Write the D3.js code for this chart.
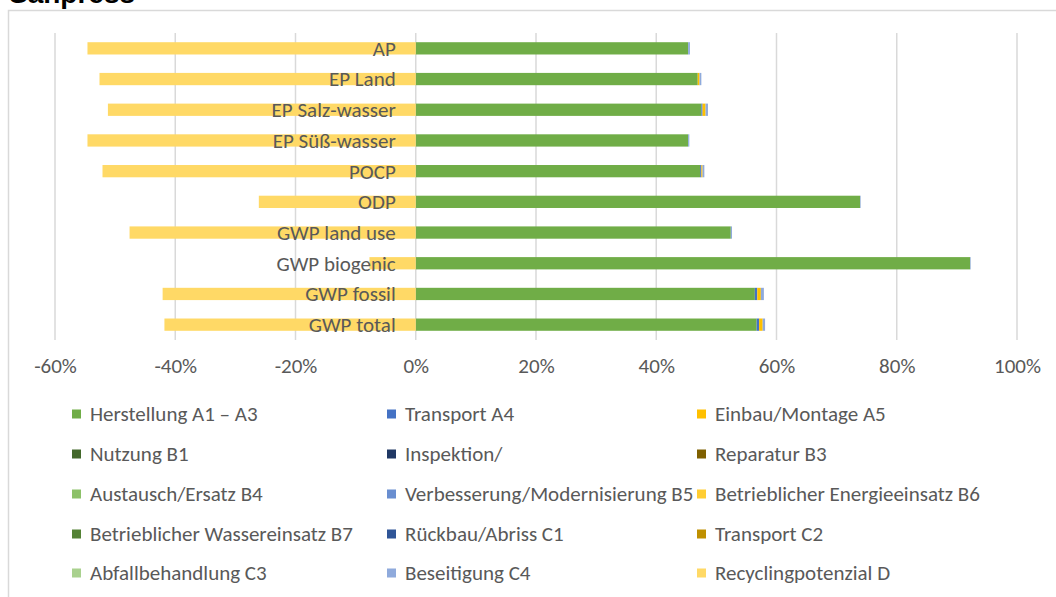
<!DOCTYPE html>
<html>
<head>
<meta charset="utf-8">
<script src="https://cdn.jsdelivr.net/npm/d3@7"></script>
<style>
  body { margin: 0; background: #fff; }
  svg { display: block; font-family: Carlito, Calibri, 'Open Sans', sans-serif; }
</style>
</head>
<body>
<svg id="chart" width="1056" height="597"></svg>
<script>
const categories = ['AP', 'EP Land', 'EP Salz-wasser', 'EP Süß-wasser', 'POCP', 'ODP',
  'GWP land use', 'GWP biogenic', 'GWP fossil', 'GWP total'];

const seriesNames = ['Herstellung A1 – A3', 'Transport A4', 'Einbau/Montage A5',
  'Nutzung B1', 'Inspektion/', 'Reparatur B3',
  'Austausch/Ersatz B4', 'Verbesserung/Modernisierung B5', 'Betrieblicher Energieeinsatz B6',
  'Betrieblicher Wassereinsatz B7', 'Rückbau/Abriss C1', 'Transport C2',
  'Abfallbehandlung C3', 'Beseitigung C4', 'Recyclingpotenzial D'];

const seriesColors = ['#70AD47', '#4472C4', '#FFC000',
  '#43682B', '#203864', '#7F6000',
  '#8CC168', '#698ED0', '#FFCD33',
  '#548235', '#2F5597', '#BF9000',
  '#A9D18E', '#8FAADC', '#FFD966'];

// values in %, one entry per category (top to bottom)
const herstellungA1A3 = [45.3, 46.9, 47.5, 45.3, 47.3, 73.9, 52.4, 92.2, 56.4, 56.7];
const transportA4     = [0, 0, 0.2, 0, 0.2, 0, 0, 0, 0.4, 0.4];
const einbauA5        = [0, 0.3, 0.5, 0, 0.2, 0, 0, 0, 0.6, 0.6];
const nutzungB1       = [0, 0, 0, 0, 0, 0, 0, 0, 0, 0];
const inspektionB2    = [0, 0, 0, 0, 0, 0, 0, 0, 0, 0];
const reparaturB3     = [0, 0, 0, 0, 0, 0, 0, 0, 0, 0];
const austauschB4     = [0, 0, 0, 0, 0, 0, 0, 0, 0, 0];
const verbesserungB5  = [0, 0, 0, 0, 0, 0, 0, 0, 0, 0];
const energieB6       = [0, 0, 0, 0, 0, 0, 0, 0, 0, 0];
const wasserB7        = [0, 0, 0, 0, 0, 0, 0, 0, 0, 0];
const rueckbauC1      = [0, 0, 0, 0, 0, 0, 0, 0, 0, 0];
const transportC2     = [0, 0, 0, 0, 0, 0, 0, 0, 0, 0];
const abfallC3        = [0, 0, 0, 0, 0, 0, 0, 0, 0, 0];
const beseitigungC4   = [0.3, 0.3, 0.4, 0.2, 0.3, 0.1, 0.2, 0.1, 0.5, 0.4];
const recyclingD      = [-54.6, -52.6, -51.2, -54.6, -52.1, -26.1, -47.6, -7.7, -42.1, -41.8];

const seriesValues = [herstellungA1A3, transportA4, einbauA5, nutzungB1, inspektionB2, reparaturB3,
  austauschB4, verbesserungB5, energieB6, wasserB7, rueckbauC1, transportC2,
  abfallC3, beseitigungC4, recyclingD];

const xTicks = [-60, -40, -20, 0, 20, 40, 60, 80, 100];

const svg = d3.select('#chart');
const textColor = '#595959';
const gridColor = '#D9D9D9';
const fontSize = 21;

// chart frame + cut-off title
svg.append('rect')
  .attr('x', 8.5).attr('y', 10.5)
  .attr('width', 1200).attr('height', 800)
  .attr('fill', 'none').attr('stroke', gridColor).attr('stroke-width', 1.5);

svg.append('text')
  .attr('x', 9).attr('y', 3)
  .attr('font-size', 28).attr('font-weight', 'bold')
  .attr('font-family', 'Liberation Sans, Arial, sans-serif')
  .attr('fill', '#000')
  .text('Sanpress');

const rows = categories.map((c, i) => {
  const row = { category: c };
  seriesNames.forEach((s, j) => { row[s] = seriesValues[j][i]; });
  return row;
});

const x = d3.scaleLinear().domain([-60, 100]).range([55, 1017]);
const y = d3.scaleBand().domain(categories).range([33, 340]).paddingInner(0.6).paddingOuter(0.3);
const color = d3.scaleOrdinal().domain(seriesNames).range(seriesColors);

// gridlines
svg.append('g')
  .selectAll('line')
  .data(xTicks)
  .join('line')
  .attr('x1', d => x(d)).attr('x2', d => x(d))
  .attr('y1', 33).attr('y2', 340)
  .attr('stroke', gridColor).attr('stroke-width', 1.5);

const stacked = d3.stack()
  .keys(seriesNames)
  .offset(d3.stackOffsetDiverging)(rows);

svg.append('g')
  .selectAll('g')
  .data(stacked)
  .join('g')
  .attr('fill', d => color(d.key))
  .selectAll('rect')
  .data(d => d)
  .join('rect')
  .attr('x', d => x(Math.min(d[0], d[1])))
  .attr('y', d => y(d.data.category))
  .attr('width', d => Math.abs(x(d[1]) - x(d[0])))
  .attr('height', y.bandwidth());

// category labels next to the axis
svg.append('g')
  .selectAll('text')
  .data(categories)
  .join('text')
  .attr('x', x(0) - 20)
  .attr('y', d => y(d) + y.bandwidth() / 2)
  .attr('dy', '0.35em')
  .attr('text-anchor', 'end')
  .attr('font-size', fontSize)
  .attr('fill', textColor)
  .text(d => d);

// x axis
const xAxis = svg.append('g')
  .attr('transform', 'translate(0,358)')
  .call(d3.axisBottom(x).tickValues(xTicks).tickSize(0).tickPadding(0)
    .tickFormat(d => `${d}%`));
xAxis.select('.domain').remove();
xAxis.selectAll('text')
  .attr('font-family', 'Carlito, Calibri, \'Open Sans\', sans-serif')
  .attr('font-size', fontSize)
  .attr('fill', textColor);

// legend, 3 columns
const legendCols = [72, 387, 697];
const legendRows = [414, 454, 494, 534, 573];
const legend = svg.append('g')
  .selectAll('g')
  .data(seriesNames)
  .join('g')
  .attr('transform', (d, i) => `translate(${legendCols[i % 3]},${legendRows[Math.floor(i / 3)]})`);

legend.append('rect')
  .attr('x', 0).attr('y', -4.5)
  .attr('width', 9).attr('height', 9)
  .attr('fill', d => color(d));

legend.append('text')
  .attr('x', 18)
  .attr('dy', '0.35em')
  .attr('font-size', fontSize)
  .attr('fill', textColor)
  .text(d => d);
</script>
</body>
</html>
